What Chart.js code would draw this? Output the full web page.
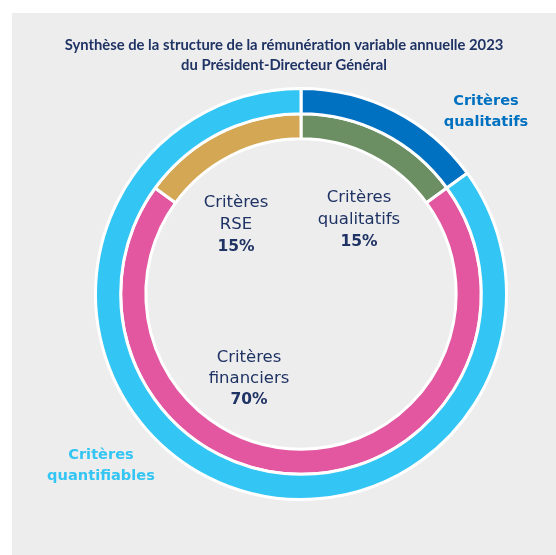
<!DOCTYPE html>
<html>
<head>
<meta charset="utf-8">
<script src="https://cdn.jsdelivr.net/npm/chart.js"></script>
<style>
  html, body { margin: 0; padding: 0; background: #fff; }
  #wrap { width: 556px; height: 555px; }
</style>
</head>
<body>
<div id="wrap"><canvas id="donut" width="556" height="555"></canvas></div>
<script>
// data
var titleLines = ["Synthèse de la structure de la rémunération variable annuelle 2023", "du Président-Directeur Général"];
var outerLabels = ["Critères qualitatifs", "Critères quantifiables"];
var outerValues = [15, 85];
var innerLabels = ["Critères qualitatifs", "Critères financiers", "Critères RSE"];
var innerValues = [15, 70, 15];

var outerColors = ["#0070c0", "#33c5f3"];
var innerColors = ["#6b8e62", "#e257a0", "#d4a755"];
var navy = "#1f3364";

var labelFont = "'DejaVu Sans', sans-serif";

function drawLines(ctx, lines, x, y, gap) {
  for (var i = 0; i < lines.length; i++) {
    ctx.font = lines[i].font;
    ctx.fillStyle = lines[i].color;
    ctx.fillText(lines[i].text, x, y + i * gap);
  }
}

var decor = {
  id: 'decor',
  beforeDraw: function (chart) {
    var ctx = chart.ctx;
    ctx.save();
    ctx.fillStyle = "#ffffff";
    ctx.fillRect(0, 0, chart.width, chart.height);
    ctx.fillStyle = "#ededed";
    ctx.fillRect(12, 13, chart.width - 12, chart.height - 13);
    ctx.restore();
  },
  afterDraw: function (chart) {
    var ctx = chart.ctx;
    var arc = chart.getDatasetMeta(0).data[0];
    var cx = arc.x, cy = arc.y;
    ctx.save();
    ctx.textAlign = "center";
    ctx.textBaseline = "middle";

    // title
    ctx.fillStyle = navy;
    ctx.font = "bold 14.8px Lato, sans-serif";
    ctx.fillText(titleLines[0], 284, 45);
    ctx.fillText(titleLines[1], 284, 65);

    var reg = "16.5px " + labelFont;
    var bold = "bold 15.5px " + labelFont;
    var outerFont = "bold 14.6px " + labelFont;

    // inner ring labels
    drawLines(ctx, [
      { text: "Critères", font: reg, color: navy },
      { text: "qualitatifs", font: reg, color: navy },
      { text: innerValues[0] + "%", font: bold, color: navy }
    ], cx + 58, cy - 96, 22);
    drawLines(ctx, [
      { text: "Critères", font: reg, color: navy },
      { text: "financiers", font: reg, color: navy },
      { text: innerValues[1] + "%", font: bold, color: navy }
    ], cx - 52, cy + 64, 21);
    drawLines(ctx, [
      { text: "Critères", font: reg, color: navy },
      { text: "RSE", font: reg, color: navy },
      { text: innerValues[2] + "%", font: bold, color: navy }
    ], cx - 65, cy - 91, 22);

    // outer ring labels
    drawLines(ctx, [
      { text: "Critères", font: outerFont, color: outerColors[0] },
      { text: "qualitatifs", font: outerFont, color: outerColors[0] }
    ], cx + 185, cy - 193, 21);
    drawLines(ctx, [
      { text: "Critères", font: outerFont, color: outerColors[1] },
      { text: "quantifiables", font: outerFont, color: outerColors[1] }
    ], cx - 200, cy + 161, 21);

    ctx.restore();
  }
};

var ctx = document.getElementById("donut");
var chart = new Chart(ctx, {
  type: 'doughnut',
  data: {
    labels: innerLabels,
    datasets: [
      {
        label: 'Structure',
        data: outerValues,
        backgroundColor: outerColors,
        borderColor: "#ffffff",
        borderWidth: 3
      },
      {
        label: 'Critères',
        data: innerValues,
        backgroundColor: innerColors,
        borderColor: "#ffffff",
        borderWidth: 3
      }
    ]
  },
  options: {
    responsive: false,
    animation: false,
    cutout: '75.5%',
    layout: { padding: { left: 94, right: 48, top: 87, bottom: 54 } },
    plugins: {
      legend: { display: false },
      tooltip: { enabled: false },
      title: { display: false }
    }
  },
  plugins: [decor]
});
</script>
</body>
</html>
